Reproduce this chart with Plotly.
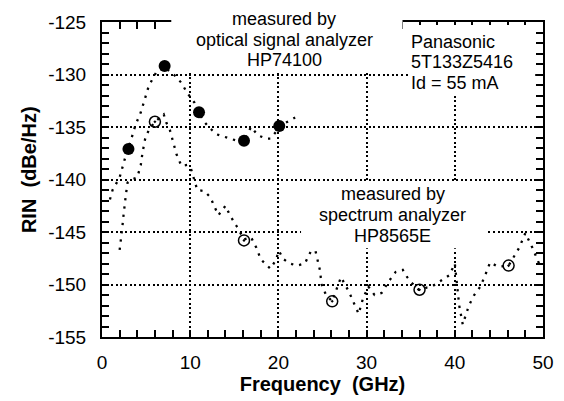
import plotly.graph_objects as go

# ---- data ----
opt_curve_f = [0.9, 1.2, 2.0, 2.6, 3.3, 3.8, 4.4, 5.3, 6.2, 7.1, 8.4, 9.0, 9.7, 10.5,
               11.4, 12.1, 13.0, 14.5, 16.0, 16.9, 17.7, 18.6, 19.1, 20.0, 20.8, 21.9]
opt_curve_rin = [-141.9, -141.0, -139.8, -138.0, -136.2, -134.8, -133.6, -131.1, -129.7,
                 -129.3, -130.2, -130.8, -131.8, -132.7, -134.3, -135.0, -135.7, -136.1,
                 -136.5, -135.0, -135.8, -136.1, -136.1, -135.2, -134.6, -134.1]

opt_pts_f = [3.0, 7.1, 11.0, 16.1, 20.1]
opt_pts_rin = [-137.1, -129.2, -133.6, -136.3, -134.9]

spec_curve_f = [2.0, 2.2, 2.3, 2.4, 2.5, 2.7, 2.9, 3.4, 4.0, 4.4, 4.6, 4.9, 5.3, 6.0, 7.0,
                7.3, 7.7, 8.1, 8.45, 9.0, 9.7, 10.1, 10.5, 10.8, 11.6, 12.3, 12.7, 13.2,
                14.0, 14.5, 15.3, 16.1, 16.9, 17.5, 18.0, 19.1, 19.7, 20.05, 20.6, 21.3,
                22.1, 23.0, 23.7, 24.2, 24.7, 24.9, 25.4, 26.1, 26.7, 27.1, 28.0, 28.7,
                29.1, 29.6, 30.2, 30.9, 31.7, 32.6, 33.3, 34.1, 34.6, 35.2, 35.9, 36.8,
                37.4, 38.5, 39.4, 40.0, 40.2, 40.5, 40.9, 41.6, 42.2, 42.9, 43.5, 44.0,
                44.9, 46.1, 47.3, 48.0, 48.8, 49.7]
spec_curve_rin = [-146.7, -145.5, -144.6, -143.7, -142.7, -141.5, -140.3, -140.0, -139.8,
                  -138.6, -137.4, -136.1, -135.3, -134.5, -133.8, -134.6, -135.3, -136.4,
                  -137.6, -138.7, -138.6, -139.0, -140.1, -141.0, -141.1, -141.7, -142.5,
                  -143.4, -142.5, -143.4, -144.5, -145.7, -145.5, -146.5, -147.6, -148.5,
                  -147.7, -146.8, -147.6, -148.0, -148.2, -148.0, -146.8, -146.8, -148.6,
                  -150.0, -151.0, -151.6, -150.2, -149.3, -150.7, -152.0, -152.8, -151.3,
                  -150.2, -151.0, -150.8, -149.6, -148.8, -148.6, -149.3, -149.9, -150.5,
                  -150.3, -150.2, -149.6, -149.1, -148.0, -149.9, -152.0, -153.8, -152.0,
                  -151.0, -150.2, -149.0, -147.9, -148.3, -148.2, -146.5, -145.1, -146.5,
                  -148.3]

spec_pts_f = [6.0, 16.1, 26.1, 36.0, 46.1]
spec_pts_rin = [-134.5, -145.8, -151.6, -150.5, -148.2]

x_ticks = [0, 10, 20, 30, 40, 50]
y_ticks = [-155, -150, -145, -140, -135, -130, -125]

opt_label = ["measured by", "optical signal analyzer", "HP74100"]
dev_label = ["Panasonic", "5T133Z5416", "Id = 55 mA"]
spec_label = ["measured by", "spectrum analyzer", "HP8565E"]

# ---- layout geometry (pixels) ----
W, H = 564, 401
L, R, T, B = 102, 10, 22, 56
PW, PH = W - L - R, H - T - B


def px(x):
    return (x - L) / PW


def py(y):
    return (H - B - y) / PH


FONT = "Liberation Sans, Arial, Helvetica, sans-serif"
fig = go.Figure()

dot_line = dict(color="black", width=2.3, dash="2.3px,6px")
fig.add_trace(go.Scatter(x=opt_curve_f, y=opt_curve_rin, mode="lines", line=dot_line,
                         showlegend=False, hoverinfo="skip"))
fig.add_trace(go.Scatter(x=spec_curve_f, y=spec_curve_rin, mode="lines", line=dot_line,
                         showlegend=False, hoverinfo="skip"))
fig.add_trace(go.Scatter(x=opt_pts_f, y=opt_pts_rin, mode="markers",
                         marker=dict(symbol="circle", size=12, color="black"),
                         showlegend=False))
fig.add_trace(go.Scatter(x=spec_pts_f, y=spec_pts_rin, mode="markers",
                         marker=dict(symbol="circle-open-dot", size=11, color="black",
                                     line=dict(width=1.5, color="black")),
                         showlegend=False))

axis_common = dict(
    showline=True, linecolor="black", linewidth=2, mirror="ticks",
    ticks="inside", ticklen=7, tickwidth=1.5, tickcolor="black",
    showgrid=True, gridcolor="black", gridwidth=1.6, griddash="2px,2.6px",
    zeroline=False,
    tickfont=dict(family=FONT, size=19, color="black"),
)

fig.update_xaxes(
    range=[0, 50], tickvals=x_ticks, ticktext=[str(v) for v in x_ticks],
    minor=dict(dtick=2, ticks="inside", ticklen=7, tickwidth=1.5, tickcolor="black",
               showgrid=False),
    title=dict(text="<b>Frequency\u00a0\u00a0(GHz)</b>",
               font=dict(family=FONT, size=20, color="black"), standoff=4),
    ticklabelstandoff=7,
    **axis_common,
)
fig.update_yaxes(
    range=[-155, -125], tickvals=y_ticks, ticktext=[str(v) for v in y_ticks],
    minor=dict(dtick=1, ticks="inside", ticklen=7, tickwidth=1.5, tickcolor="black",
               showgrid=False),
    ticklabelstandoff=10,
    **axis_common,
)

# y-axis title placed as in the original (slightly above the axis centre)
fig.add_annotation(text="<b>RIN\u00a0\u00a0(dBe/Hz)</b>", xref="paper", yref="paper",
                   x=px(27), y=py(173), xanchor="center", yanchor="middle",
                   textangle=-90, showarrow=False,
                   font=dict(family=FONT, size=20, color="black"))

# white boxes behind the text blocks (they hide grid/frame like the original)
boxes = [(173, 410, 0, 72), (416, 546, 25, 98), (306, 497, 187, 254)]
for x0, x1, y0, y1 in boxes:
    fig.add_shape(type="rect", xref="paper", yref="paper",
                  x0=px(x0), x1=px(x1), y0=py(y1), y1=py(y0),
                  fillcolor="white", line=dict(width=0), layer="above")

tfont = dict(family=FONT, size=18, color="black")
for txt, yc in zip(opt_label, [19, 40, 61]):
    fig.add_annotation(text=txt, xref="paper", yref="paper", x=px(289), y=py(yc),
                       xanchor="center", yanchor="middle", showarrow=False, font=tfont,
                       borderpad=0)
for txt, yc in zip(dev_label, [42.3, 63.5, 84.7]):
    fig.add_annotation(text=txt, xref="paper", yref="paper", x=px(418), y=py(yc),
                       xanchor="left", yanchor="middle", showarrow=False, font=tfont,
                       borderpad=0)
for txt, yc in zip(spec_label, [198.3, 220, 241.7]):
    fig.add_annotation(text=txt, xref="paper", yref="paper", x=px(400), y=py(yc),
                       xanchor="center", yanchor="middle", showarrow=False, font=tfont,
                       borderpad=0)

fig.update_layout(
    width=W, height=H,
    margin=dict(l=L, r=R, t=T, b=B),
    paper_bgcolor="white", plot_bgcolor="white",
    showlegend=False,
)

fig.write_html("out.html", config={"displayModeBar": False})
